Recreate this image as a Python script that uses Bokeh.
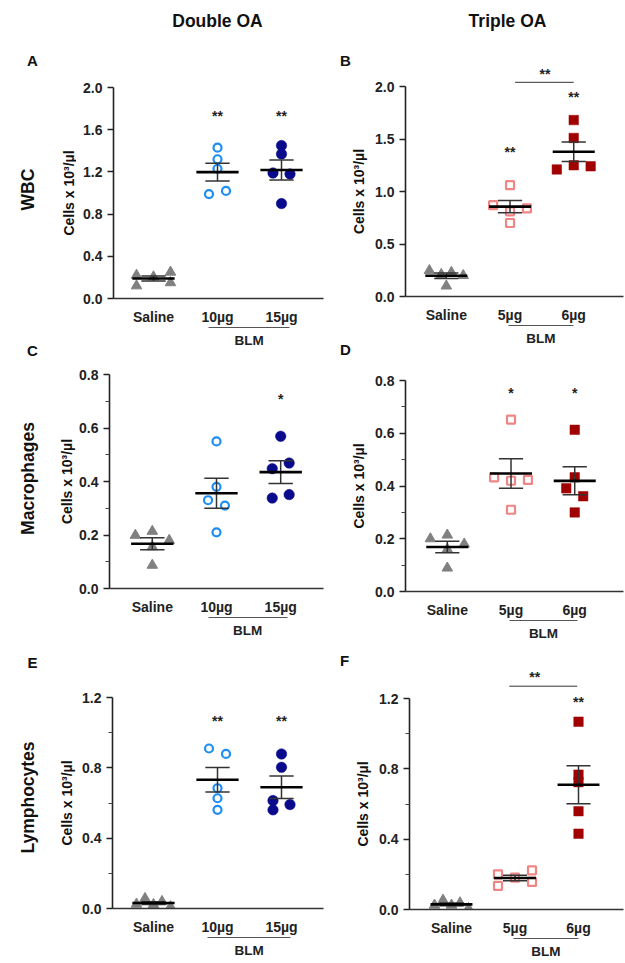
import numpy as np
from bokeh.plotting import figure
from bokeh.models import Range1d, FixedTicker, NumeralTickFormatter, LinearAxis
from bokeh.layouts import column, row
from bokeh.embed import file_html
from bokeh.resources import INLINE
from bokeh.core.properties import value

# ---------------------------------------------------------------- data
column_titles = ["Double OA", "Triple OA"]
row_titles = ["WBC", "Macrophages", "Lymphocytes"]
panel_letters = ["A", "B", "C", "D", "E", "F"]
doses_double = ["Saline", "10µg", "15µg"]
doses_triple = ["Saline", "5µg", "6µg"]
group_name = "BLM"
y_title = "Cells x 10³/µl"

# WBC
wbc_double_saline = [0.22, 0.12, 0.205, 0.25, 0.15]
wbc_double_10 = [0.99, 1.43, 1.32, 1.23, 1.02]
wbc_double_15 = [1.45, 1.37, 1.19, 1.18, 0.90]
wbc_triple_saline = [0.247, 0.21, 0.10, 0.23, 0.20]
wbc_triple_5 = [1.06, 0.87, 0.81, 0.84, 0.70]
wbc_triple_6 = [1.68, 1.51, 1.21, 1.25, 1.24]
# Macrophages
mac_double_saline = [0.199, 0.214, 0.156, 0.18, 0.087]
mac_double_10 = [0.55, 0.38, 0.33, 0.31, 0.21]
mac_double_15 = [0.569, 0.448, 0.469, 0.338, 0.351]
mac_triple_saline = [0.20, 0.214, 0.16, 0.18, 0.089]
mac_triple_5 = [0.652, 0.433, 0.42, 0.423, 0.31]
mac_triple_6 = [0.613, 0.433, 0.391, 0.361, 0.30]
# Lymphocytes
lym_double_saline = [0.025, 0.057, 0.023, 0.04, 0.01]
lym_double_10 = [0.91, 0.879, 0.684, 0.627, 0.561]
lym_double_15 = [0.879, 0.803, 0.614, 0.591, 0.561]
lym_triple_saline = [0.025, 0.053, 0.025, 0.038, 0.006]
lym_triple_5 = [0.20, 0.134, 0.181, 0.223, 0.157]
lym_triple_6 = [1.068, 0.767, 0.724, 0.559, 0.431]

# tick values
yticks_wbc_double = [0.0, 0.4, 0.8, 1.2, 1.6, 2.0]
yticks_wbc_triple = [0.0, 0.5, 1.0, 1.5, 2.0]
yticks_mac = [0.0, 0.2, 0.4, 0.6, 0.8]
yminor_mac = [0.1, 0.3, 0.5, 0.7]
yticks_lym = [0.0, 0.4, 0.8, 1.2]
yminor_lym = [0.2, 0.6, 1.0]

# significance marks per dose (vs saline) and between doses
sig_A = ["", "**", "**"]
sig_B = ["", "**", "**"]
sig_C = ["", "", "*"]
sig_D = ["", "*", "*"]
sig_E = ["", "**", "**"]
sig_F = ["", "", "**"]
sig_B_between = "**"
sig_F_between = "**"

# ---------------------------------------------------------------- style
FONT = "Liberation Sans"
STEP_PX = 8.5  # horizontal spacing of spread-out points
SALINE_STYLE = dict(marker="triangle", size=10.5, fill_color="#808080", line_color="#808080", line_width=1)
STYLE_10 = dict(marker="circle", size=8, fill_color=None, line_color="#1E8EF2", line_width=2.2)
STYLE_15 = dict(marker="circle", size=10.5, fill_color="#0A0A8C", line_color="#0A0A8C", line_width=0.5)
STYLE_5 = dict(marker="square", size=8, fill_color=None, line_color="#F08585", line_width=2.2)
STYLE_6 = dict(marker="square", size=9.5, fill_color="#A00000", line_color="#A00000", line_width=0.5)

# point spread (in units of STEP_PX), same order as data
SPREAD = {
    "A": [[-2, -2, 0, 2, 2], [-1, 0, 0, 0, 1], [0, 0, -1, 1, 0]],
    "B": [[-2, -0.6, 0, 0.6, 2], [0, -2, 0, 2, 0], [0, 0, -2, 0, 2]],
    "C": [[-2, 0, 0, 2, 0], [0, 0, -1, 1, 0], [0, -1, 1, -1, 1]],
    "D": [[-2, 0, 0, 2, 0], [0, -2, 0, 2, 0], [0, 0, -1, 1, 0]],
    "E": [[-2, -1, 0, 1, 2], [-1, 1, 0, 0, 0], [0, 0, -1, 1, -1]],
    "F": [[-2, -1, 0, 1, 2], [-2, -2, 0, 2, 2], [0, 0, 0, 0, 0]],
}

# geometry, in page pixels
COL_X = [0, 76, 325, 372, 625]      # side texts | left panels | mid texts | right panels
HEADER_H = 36
PANEL_ROW_Y = [36, 352, 648, 963]   # panel rows (each panel column stacks independently)

GEOM = {
    "A": dict(col=0, r=0, axis_x=113, fr=323, cat0=153, step=64, y0=298, ytop=87, ft=60, tx=68),
    "B": dict(col=1, r=0, axis_x=404, fr=623, cat0=445, step=64, y0=296, ytop=86, ft=60, tx=358),
    "C": dict(col=0, r=1, axis_x=108, fr=323, cat0=151, step=64.5, y0=588, ytop=374, ft=358, tx=66),
    "D": dict(col=1, r=1, axis_x=404, fr=623, cat0=446, step=64, y0=591, ytop=380, ft=358, tx=358),
    "E": dict(col=0, r=2, axis_x=112, fr=323, cat0=153, step=64, y0=908, ytop=697, ft=672, tx=66),
    "F": dict(col=1, r=2, axis_x=409, fr=623, cat0=451, step=63.5, y0=909, ytop=698, ft=664, tx=362),
}
BLM_BOUNDS = {"A": (0.86, 2.13), "B": (0.97, 2.0), "C": (0.87, 2.1),
              "D": (0.97, 2.05), "E": (0.85, 2.14), "F": (0.97, 2.0)}
SIG_Y = {"A": 1.73, "B": [None, 1.38, 1.90], "C": 0.709, "D": 0.752, "E": 1.069, "F": 1.179}
BRACKET = {"B": dict(x0=1.08, x1=2.0, y=2.04, tx=1.55, ty=2.12),
           "F": dict(x0=0.91, x1=1.98, y=1.27, tx=1.31, ty=1.32)}

ROT = np.pi / 2
# free texts in page pixels: (text, x, y, size, angle)
HEADER_TEXTS = [(column_titles[0], 217, 20, "17.5px", 0), (column_titles[1], 507, 20, "17.5px", 0)]
SIDE_TEXTS = [
    (panel_letters[0], 32, 60, "15px", 0), (row_titles[0], 27, 189, "17.5px", ROT),
    (panel_letters[2], 32, 350, "15px", 0), (row_titles[1], 27, 478, "17.5px", ROT),
    (panel_letters[4], 32, 662, "15px", 0), (row_titles[2], 27, 797, "17.5px", ROT),
]
MID_TEXTS = [
    (panel_letters[1], 345, 60, "15px", 0),
    (panel_letters[3], 345, 349, "15px", 0),
    (panel_letters[5], 344, 660, "15px", 0),
]
# y-axis titles, centred on each axis
for key, lst in (("A", SIDE_TEXTS), ("C", SIDE_TEXTS), ("E", SIDE_TEXTS),
                 ("B", MID_TEXTS), ("D", MID_TEXTS), ("F", MID_TEXTS)):
    g = GEOM[key]
    lst.append((y_title, g["tx"], (g["y0"] + g["ytop"]) / 2, "14px", ROT))

PANELS = {
    "A": dict(groups=[wbc_double_saline, wbc_double_10, wbc_double_15], doses=doses_double,
              styles=[SALINE_STYLE, STYLE_10, STYLE_15], ticks=yticks_wbc_double, minor=[], sig=sig_A),
    "B": dict(groups=[wbc_triple_saline, wbc_triple_5, wbc_triple_6], doses=doses_triple,
              styles=[SALINE_STYLE, STYLE_5, STYLE_6], ticks=yticks_wbc_triple, minor=[], sig=sig_B),
    "C": dict(groups=[mac_double_saline, mac_double_10, mac_double_15], doses=doses_double,
              styles=[SALINE_STYLE, STYLE_10, STYLE_15], ticks=yticks_mac, minor=yminor_mac, sig=sig_C),
    "D": dict(groups=[mac_triple_saline, mac_triple_5, mac_triple_6], doses=doses_triple,
              styles=[SALINE_STYLE, STYLE_5, STYLE_6], ticks=yticks_mac, minor=yminor_mac, sig=sig_D),
    "E": dict(groups=[lym_double_saline, lym_double_10, lym_double_15], doses=doses_double,
              styles=[SALINE_STYLE, STYLE_10, STYLE_15], ticks=yticks_lym, minor=yminor_lym, sig=sig_E),
    "F": dict(groups=[lym_triple_saline, lym_triple_5, lym_triple_6], doses=doses_triple,
              styles=[SALINE_STYLE, STYLE_5, STYLE_6], ticks=yticks_lym, minor=yminor_lym, sig=sig_F),
}
BETWEEN = {"B": sig_B_between, "F": sig_F_between}


def text_fig(x0, x1, y0, y1, items):
    w, h = x1 - x0, y1 - y0
    p = figure(width=w, height=h, output_backend="svg", toolbar_location=None,
               x_range=Range1d(0, w), y_range=Range1d(0, h), x_axis_type=None, y_axis_type=None,
               min_border=0, min_border_left=0, min_border_right=0, min_border_top=0, min_border_bottom=0,
               frame_align=False, background_fill_color="white", border_fill_color="white")
    p.outline_line_color = None
    for (txt, px_, py_, size, ang) in items:
        p.text(x=[px_ - x0], y=[h - (py_ - y0)], text=[txt], angle=ang, text_font=value(FONT),
               text_font_style="bold", text_font_size=size, text_color="#111111",
               text_align="center", text_baseline="middle")
    return p


def make_panel(key):
    g = GEOM[key]
    d = PANELS[key]
    xf = COL_X[1] if g["col"] == 0 else COL_X[3]
    w = (COL_X[2] - COL_X[1]) if g["col"] == 0 else (COL_X[4] - COL_X[3])
    yf = PANEL_ROW_Y[g["r"]]
    h = PANEL_ROW_Y[g["r"] + 1] - yf
    ppx = g["step"]
    topv = d["ticks"][-1]
    ppy = (g["y0"] - g["ytop"]) / topv
    xs = (g["axis_x"] - g["cat0"]) / ppx
    xe = (g["fr"] - g["cat0"]) / ppx
    ye = (g["y0"] - g["ft"]) / ppy

    p = figure(width=w, height=h, output_backend="svg", toolbar_location=None,
               x_range=Range1d(xs, xe), y_range=Range1d(0, ye),
               min_border_left=g["axis_x"] - xf, min_border_right=xf + w - g["fr"],
               min_border_top=g["ft"] - yf, min_border_bottom=yf + h - g["y0"],
               frame_align=False, background_fill_color="white", border_fill_color="white")
    p.outline_line_color = None
    p.xgrid.visible = False
    p.ygrid.visible = False

    # y axis
    ya = p.yaxis[0]
    ya.ticker = FixedTicker(ticks=d["ticks"], minor_ticks=d["minor"])
    ya.formatter = NumeralTickFormatter(format="0.0")
    ya.bounds = (0, topv)
    ya.axis_line_color = "#222222"
    ya.axis_line_width = 1.6
    ya.major_tick_line_color = "#222222"
    ya.major_tick_line_width = 1.6
    ya.major_tick_out = 6
    ya.major_tick_in = 0
    ya.minor_tick_line_color = "#444444"
    ya.minor_tick_line_width = 1
    ya.minor_tick_out = 4
    ya.minor_tick_in = 0
    ya.major_label_text_font = FONT
    ya.major_label_text_font_style = "bold"
    ya.major_label_text_font_size = "14px"
    ya.major_label_text_color = "#222222"
    ya.major_label_standoff = 5

    # x axis
    xa = p.xaxis[0]
    xa.ticker = FixedTicker(ticks=[0, 1, 2])
    xa.major_label_overrides = {i: name for i, name in enumerate(d["doses"])}
    xa.major_tick_line_color = None
    xa.major_tick_out = 0
    xa.major_tick_in = 0
    xa.minor_tick_line_color = None
    xa.axis_line_color = "#333333"
    xa.axis_line_width = 1.6
    xa.major_label_text_font = FONT
    xa.major_label_text_font_style = "bold"
    xa.major_label_text_font_size = "14px"
    xa.major_label_text_color = "#222222"
    xa.major_label_standoff = 10

    # group bracket (BLM) under the two doses; its single tick label is the group name
    b0, b1 = BLM_BOUNDS[key]
    mid = round((b0 + b1) / 2, 3)
    blm_axis = LinearAxis(ticker=FixedTicker(ticks=[mid]), bounds=(b0, b1),
                          major_label_overrides={mid: group_name},
                          axis_line_color="#555555", axis_line_width=1,
                          major_tick_line_color=None, minor_tick_line_color=None,
                          major_tick_out=0, major_tick_in=0, minor_tick_out=0, minor_tick_in=0,
                          major_label_standoff=5, major_label_text_font=FONT,
                          major_label_text_font_style="bold", major_label_text_font_size="13.5px",
                          major_label_text_color="#222222")
    p.add_layout(blm_axis, "below")

    # points, then mean and SEM on top
    for i, (vals, st) in enumerate(zip(d["groups"], d["styles"])):
        vals = np.asarray(vals, dtype=float)
        xs_pts = i + np.asarray(SPREAD[key][i]) * STEP_PX / ppx
        p.scatter(xs_pts, vals, **st)
    for i, vals in enumerate(d["groups"]):
        vals = np.asarray(vals, dtype=float)
        m = vals.mean()
        sem = vals.std(ddof=1) / np.sqrt(len(vals))
        p.segment(x0=[i], x1=[i], y0=[m - sem], y1=[m + sem], line_color="#333333", line_width=1.5)
        p.segment(x0=[i - 0.19, i - 0.19], x1=[i + 0.19, i + 0.19], y0=[m - sem, m + sem],
                  y1=[m - sem, m + sem], line_color="#333333", line_width=1.5)
        p.segment(x0=[i - 0.33], x1=[i + 0.33], y0=[m], y1=[m], line_color="black", line_width=2.6)

    # significance stars
    sy = SIG_Y[key]
    tx, ty, tt = [], [], []
    for i, s in enumerate(d["sig"]):
        if s:
            tx.append(i)
            ty.append(sy[i] if isinstance(sy, list) else sy)
            tt.append(s)
    if key in BRACKET:
        br = BRACKET[key]
        p.segment(x0=[br["x0"]], x1=[br["x1"]], y0=[br["y"]], y1=[br["y"]], line_color="#333333", line_width=1)
        tx.append(br["tx"])
        ty.append(br["ty"])
        tt.append(BETWEEN[key])
    p.text(x=tx, y=ty, text=tt, text_font=value(FONT), text_font_style="bold", text_font_size="14px",
           text_color="#222222", text_align="center", text_baseline="middle")
    return p


figs = {k: make_panel(k) for k in ["A", "B", "C", "D", "E", "F"]}
header = text_fig(COL_X[0], COL_X[4], 0, HEADER_H, HEADER_TEXTS)
side = text_fig(COL_X[0], COL_X[1], HEADER_H, PANEL_ROW_Y[-1], SIDE_TEXTS)
midf = text_fig(COL_X[2], COL_X[3], HEADER_H, PANEL_ROW_Y[-1], MID_TEXTS)
body = row(side, column(figs["A"], figs["C"], figs["E"]), midf, column(figs["B"], figs["D"], figs["F"]))
layout = column(header, body)

open("out.html", "w").write(file_html(layout, INLINE))
